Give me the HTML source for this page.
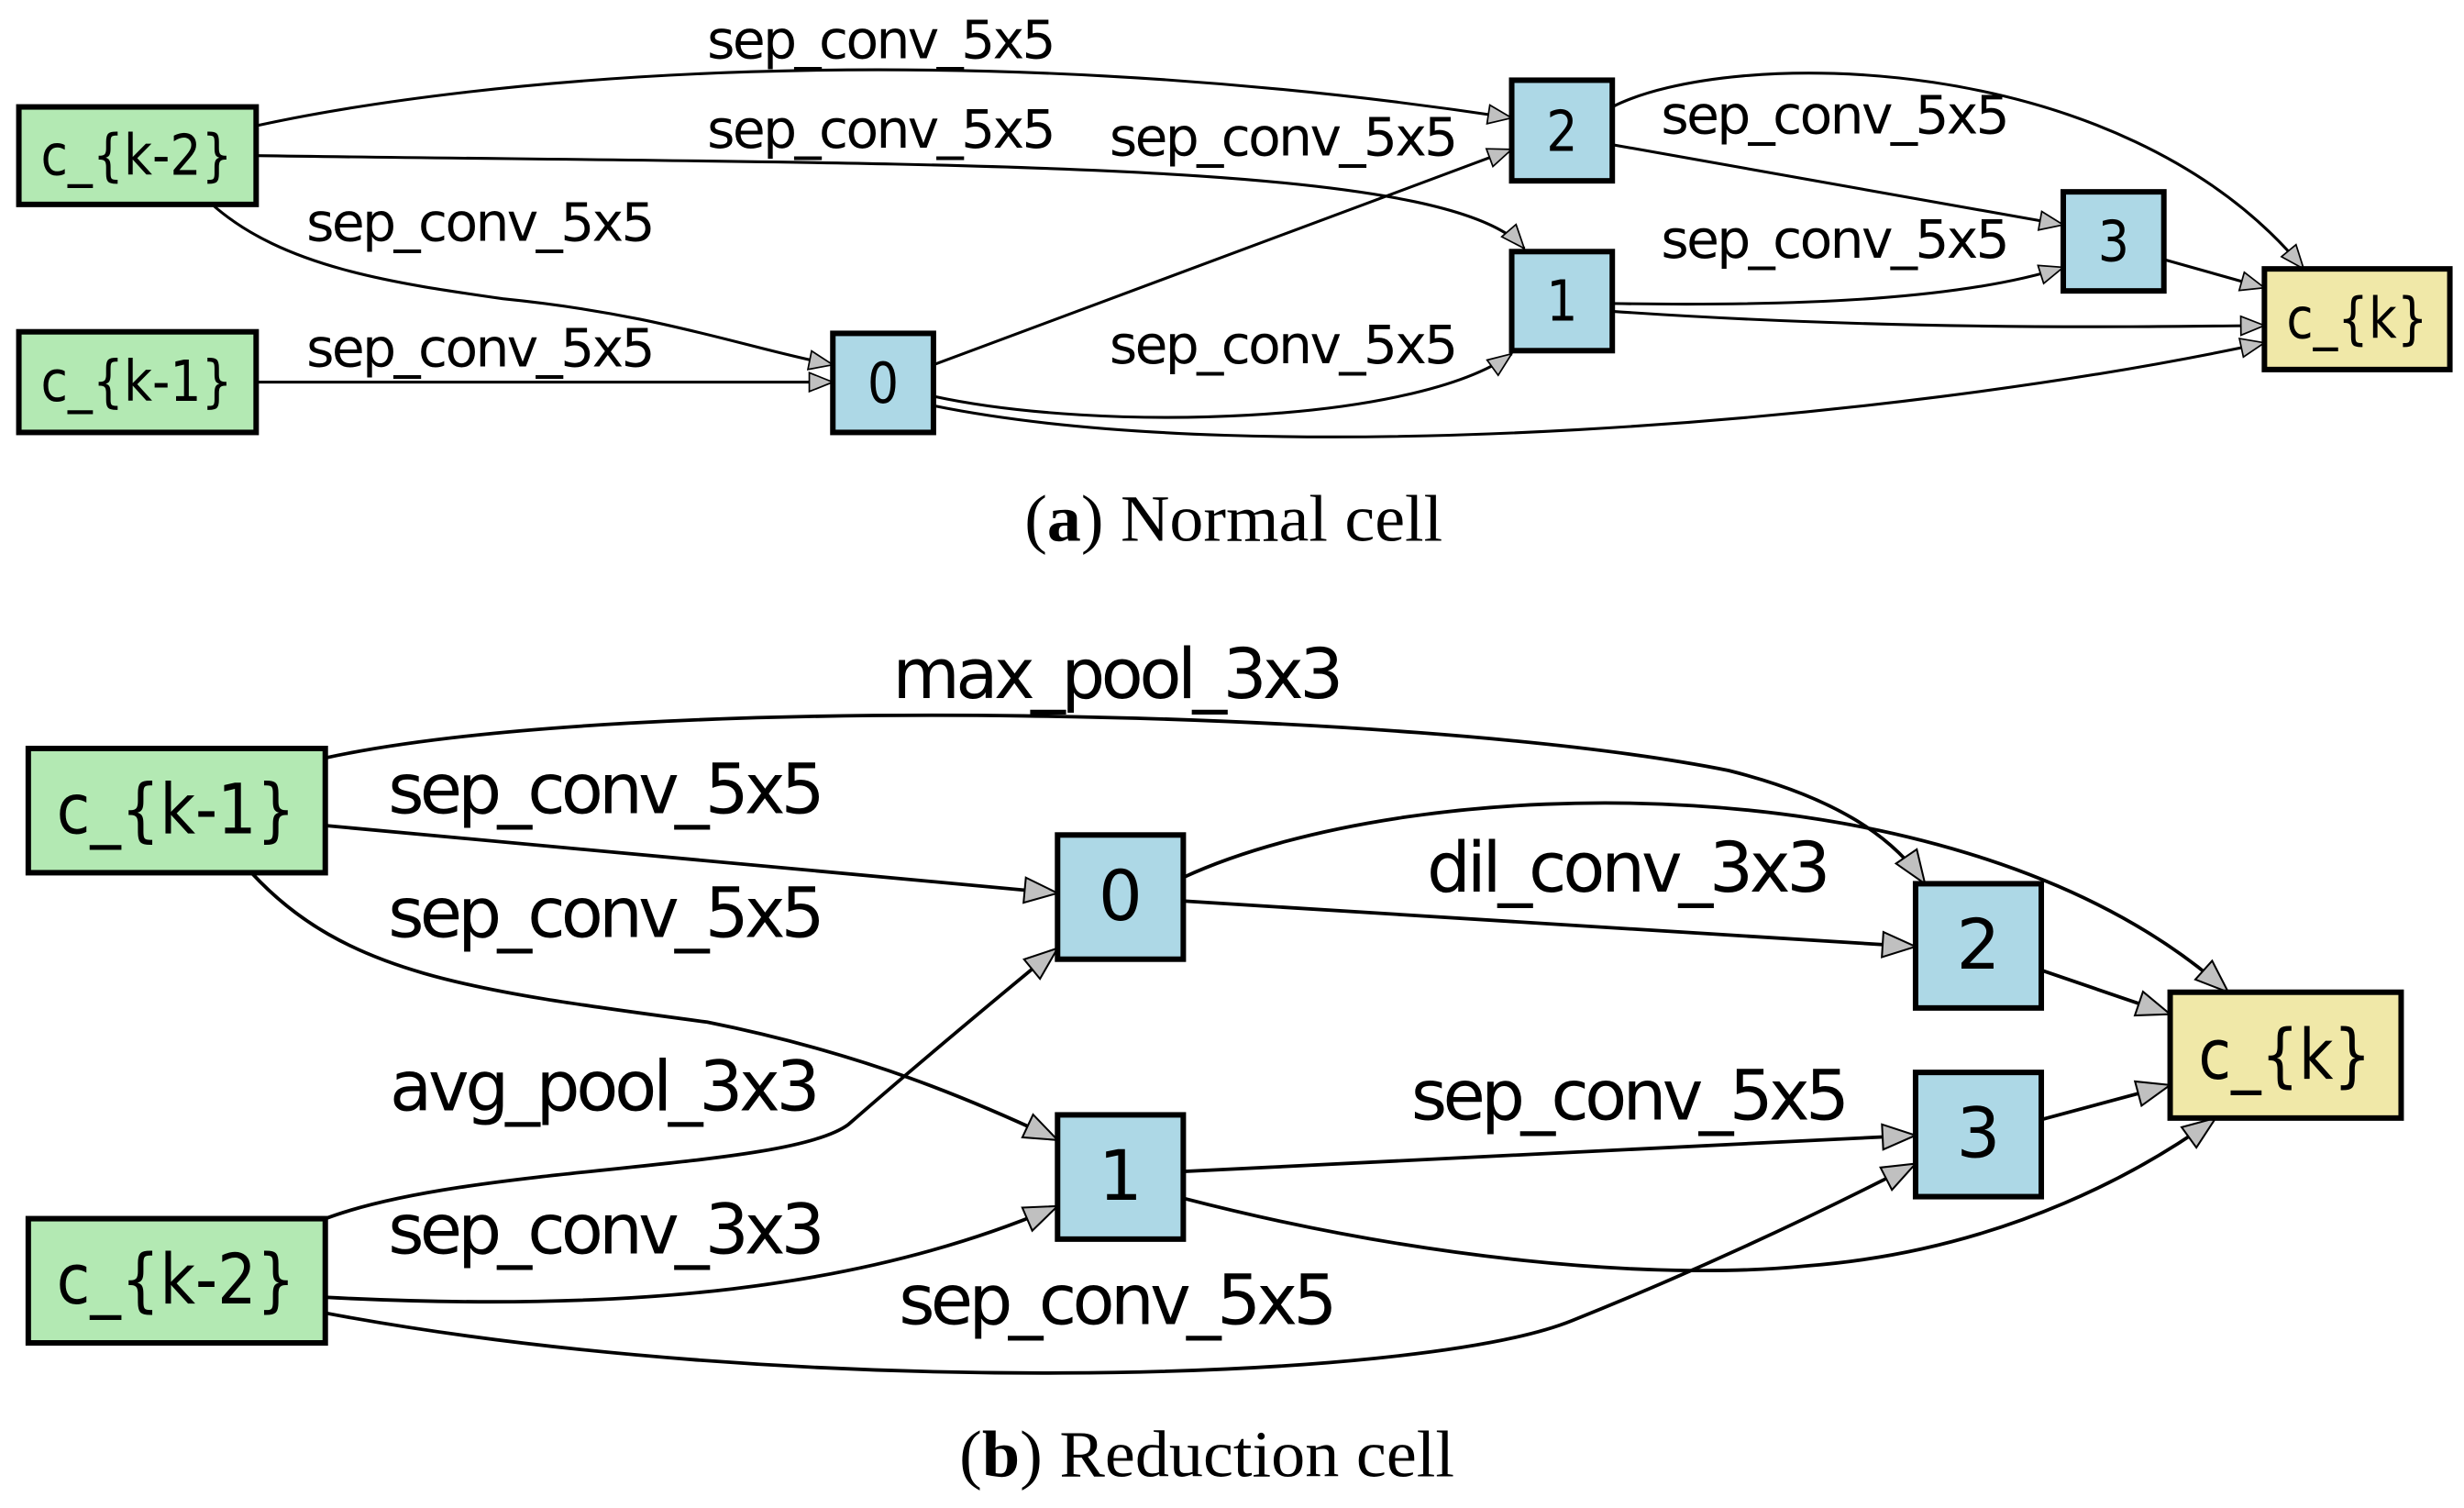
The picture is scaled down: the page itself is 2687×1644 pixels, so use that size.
<!DOCTYPE html>
<html><head><meta charset="utf-8"><style>html,body{margin:0;padding:0;background:#fff}svg{display:block}</style></head>
<body>
<svg width="2687" height="1644" viewBox="0 0 1568 959" preserveAspectRatio="none" xmlns="http://www.w3.org/2000/svg">
<defs>
<marker id="a1" markerUnits="userSpaceOnUse" markerWidth="18" markerHeight="14" refX="16" refY="7" orient="auto"><path d="M1,1 L16,7 L1,13 Z" fill="#c0c0c0" stroke="#000" stroke-width="1"/></marker>
<marker id="a2" markerUnits="userSpaceOnUse" markerWidth="24" markerHeight="18" refX="22" refY="9" orient="auto"><path d="M1,1 L22,9 L1,17 Z" fill="#c0c0c0" stroke="#000" stroke-width="1.2"/></marker>
</defs>
<g fill="none" stroke="#000" stroke-width="1.8" marker-end="url(#a1)">
<path d="M163,80 C300,50 600,20 962,75"/>
<path d="M163,99 C600,105 920,100 970,158"/>
<path d="M135,130 C180,170 250,180 320,190 C420,200 470,220 530,232"/>
<path d="M163,243 L530,243"/>
<path d="M594,232 L962,95"/>
<path d="M594,252 C700,275 900,270 962,225"/>
<path d="M594,258 C800,300 1200,270 1441,218"/>
<path d="M1026,68 C1100,30 1350,30 1466,171"/>
<path d="M1026,92 L1313,143"/>
<path d="M1026,193 C1150,195 1250,190 1313,170"/>
<path d="M1026,198 C1200,210 1350,208 1441,207"/>
<path d="M1377,165 L1441,183"/>
</g>
<g fill="none" stroke="#000" stroke-width="2.2" marker-end="url(#a2)">
<path d="M207,482 C400,440 900,450 1100,490 C1180,510 1210,540 1225,562"/>
<path d="M207,525 L673,568"/>
<path d="M160,555 C220,620 300,630 450,650 C550,670 620,700 673,725"/>
<path d="M207,775 C300,740 500,745 540,715 C580,680 640,630 673,603"/>
<path d="M207,825 C400,835 550,820 673,767"/>
<path d="M207,835 C500,890 900,880 1000,840 C1100,800 1180,760 1219,740"/>
<path d="M753,558 C900,490 1250,480 1418,631"/>
<path d="M753,573 L1219,602"/>
<path d="M753,745 L1219,722"/>
<path d="M753,762 C900,800 1050,815 1150,805 C1280,795 1370,740 1410,711"/>
<path d="M1299,617 L1381,645"/>
<path d="M1299,712 L1381,690"/>
</g>
<g stroke="#000" stroke-width="3.5">
<rect x="12" y="68" width="151" height="62" fill="#b3e9b3"/>
<rect x="12" y="211" width="151" height="64" fill="#b3e9b3"/>
<rect x="530" y="212" width="64" height="63" fill="#add8e6"/>
<rect x="962" y="51" width="64" height="64" fill="#add8e6"/>
<rect x="962" y="160" width="64" height="63" fill="#add8e6"/>
<rect x="1313" y="122" width="64" height="63" fill="#add8e6"/>
<rect x="1441" y="171" width="118" height="64" fill="#f0e8a8"/>
<rect x="18" y="476" width="189" height="79" fill="#b3e9b3"/>
<rect x="18" y="775" width="189" height="79" fill="#b3e9b3"/>
<rect x="673" y="531" width="80" height="79" fill="#add8e6"/>
<rect x="673" y="709" width="80" height="79" fill="#add8e6"/>
<rect x="1219" y="562" width="80" height="79" fill="#add8e6"/>
<rect x="1219" y="682" width="80" height="79" fill="#add8e6"/>
<rect x="1381" y="631" width="147" height="80" fill="#f0e8a8"/>
</g>
<g font-family="DejaVu Sans, Liberation Sans, sans-serif" fill="#000" font-size="36" text-anchor="middle">
<text x="87" y="111" textLength="122" lengthAdjust="spacingAndGlyphs">c_{k-2}</text>
<text x="87" y="255" textLength="122" lengthAdjust="spacingAndGlyphs">c_{k-1}</text>
<text x="562" y="256" textLength="20" lengthAdjust="spacingAndGlyphs">0</text>
<text x="994" y="96" textLength="20" lengthAdjust="spacingAndGlyphs">2</text>
<text x="994" y="204" textLength="20" lengthAdjust="spacingAndGlyphs">1</text>
<text x="1345" y="166" textLength="20" lengthAdjust="spacingAndGlyphs">3</text>
<text x="1500" y="215" textLength="90" lengthAdjust="spacingAndGlyphs">c_{k}</text>
</g>
<g font-family="DejaVu Sans, Liberation Sans, sans-serif" fill="#000" font-size="44" text-anchor="middle">
<text x="112" y="530" textLength="152" lengthAdjust="spacingAndGlyphs">c_{k-1}</text>
<text x="112" y="829" textLength="152" lengthAdjust="spacingAndGlyphs">c_{k-2}</text>
<text x="713" y="585">0</text>
<text x="713" y="763">1</text>
<text x="1259" y="616">2</text>
<text x="1259" y="736">3</text>
<text x="1454" y="686" textLength="110" lengthAdjust="spacingAndGlyphs">c_{k}</text>
</g>
<g font-family="DejaVu Sans, Liberation Sans, sans-serif" fill="#000" font-size="34" lengthAdjust="spacingAndGlyphs">
<text x="450" y="37" textLength="222">sep_conv_5x5</text>
<text x="450" y="94" textLength="222">sep_conv_5x5</text>
<text x="195" y="153" textLength="222">sep_conv_5x5</text>
<text x="195" y="233" textLength="222">sep_conv_5x5</text>
<text x="706" y="99" textLength="222">sep_conv_5x5</text>
<text x="706" y="231" textLength="222">sep_conv_5x5</text>
<text x="1057" y="85" textLength="222">sep_conv_5x5</text>
<text x="1057" y="164" textLength="222">sep_conv_5x5</text>
</g>
<g font-family="DejaVu Sans, Liberation Sans, sans-serif" fill="#000" font-size="44" lengthAdjust="spacingAndGlyphs">
<text x="568" y="444" textLength="287">max_pool_3x3</text>
<text x="247" y="517" textLength="278">sep_conv_5x5</text>
<text x="247" y="596" textLength="278">sep_conv_5x5</text>
<text x="908" y="567" textLength="257">dil_conv_3x3</text>
<text x="248" y="706" textLength="274">avg_pool_3x3</text>
<text x="898" y="712" textLength="279">sep_conv_5x5</text>
<text x="247" y="797" textLength="278">sep_conv_3x3</text>
<text x="572" y="842" textLength="279">sep_conv_5x5</text>
</g>
<g font-family="Liberation Serif, serif" fill="#000" text-anchor="middle">
<text x="785" y="344" font-size="42" textLength="266" lengthAdjust="spacingAndGlyphs">(<tspan font-weight="bold">a</tspan>) Normal cell</text>
<text x="768" y="939" font-size="42" textLength="315" lengthAdjust="spacingAndGlyphs">(<tspan font-weight="bold">b</tspan>) Reduction cell</text>
</g>
</svg>
</body></html>
